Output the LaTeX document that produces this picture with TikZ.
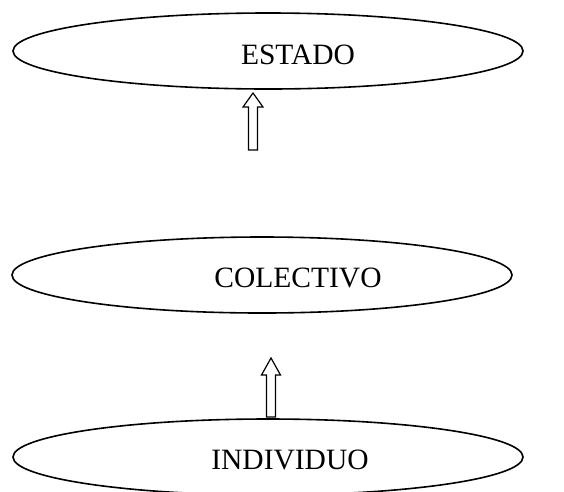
\documentclass[tikz,border=0pt]{standalone}
\usepackage{fontspec}
\setmainfont{Liberation Serif}
\usepackage{tikz}
\usetikzlibrary{calc,positioning,shapes.geometric}

\tikzset{
	oval/.style={draw,ellipse,line width=1.6pt,minimum width=510pt,minimum height=76pt,inner sep=0pt},
	oval label/.style={font=\fontsize{29.5}{34}\selectfont,inner sep=0pt},
	hollow arrow/.style={draw,line width=1.2pt,fill=white}
}

\begin{document}
\begin{tikzpicture}[x=1pt,y=-1pt]
		\clip (0,0) rectangle (564,491);
		\fill[white] (0,0) rectangle (564,491);
		% the three levels
		\node[oval] (estado) at (268,51) {};
		\node[oval label] (estadotxt) at (298,55) {ESTADO};
		\node[oval,minimum width=500pt] (colectivo) at (262,275) {};
		\node[oval label] (colectivotxt) at (298,278) {COLECTIVO};
		\node[oval] (individuo) at (268,457) {};
		\node[oval label] (individuotxt) at (290,460) {INDIVIDUO};
		% upward block arrows
		\coordinate (tipa) at (253,93);
		\draw[hollow arrow] (tipa) -- ++(10,14) -- ++(-5.5,0) -- ++(0,43) -- ++(-9,0) -- ++(0,-43) -- ++(-5.5,0) -- cycle;
		\coordinate (tipb) at (271,358);
		\draw[hollow arrow] (tipb) -- ++(9.5,17) -- ++(-5,0) -- ++(0,42) -- ++(-9,0) -- ++(0,-42) -- ++(-5,0) -- cycle;
\end{tikzpicture}
\end{document}
